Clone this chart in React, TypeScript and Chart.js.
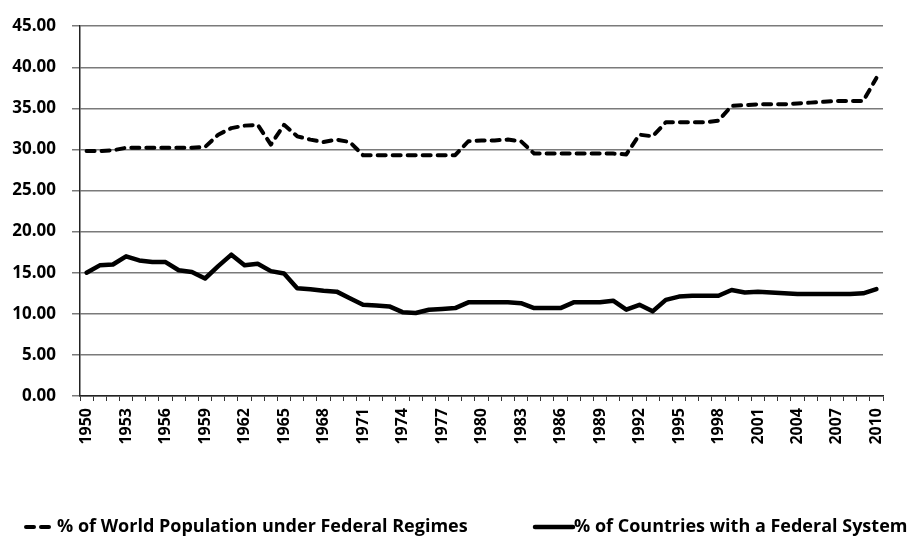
import React, { useEffect, useRef } from "react";
import { Chart, registerables } from "chart.js";

Chart.register(...registerables);

const years = [
  "1950", "1951", "1952", "1953", "1954", "1955", "1956", "1957", "1958", "1959",
  "1960", "1961", "1962", "1963", "1964", "1965", "1966", "1967", "1968", "1969",
  "1970", "1971", "1972", "1973", "1974", "1975", "1976", "1977", "1978", "1979",
  "1980", "1981", "1982", "1983", "1984", "1985", "1986", "1987", "1988", "1989",
  "1990", "1991", "1992", "1993", "1994", "1995", "1996", "1997", "1998", "1999",
  "2000", "2001", "2002", "2003", "2004", "2005", "2006", "2007", "2008", "2009",
  "2010",
];

const shownYearLabels = [
  "1950", "1953", "1956", "1959", "1962", "1965", "1968", "1971", "1974", "1977",
  "1980", "1983", "1986", "1989", "1992", "1995", "1998", "2001", "2004", "2007",
  "2010",
];

const worldPopulationShare = [
  29.8, 29.8, 29.9, 30.2, 30.2, 30.2, 30.2, 30.2, 30.2, 30.3,
  31.8, 32.6, 32.9, 33.0, 30.6, 33.0, 31.6, 31.2, 30.9, 31.2,
  30.9, 29.3, 29.3, 29.3, 29.3, 29.3, 29.3, 29.3, 29.3, 31.0,
  31.1, 31.1, 31.2, 31.0, 29.5, 29.5, 29.5, 29.5, 29.5, 29.5,
  29.5, 29.4, 31.8, 31.6, 33.3, 33.3, 33.3, 33.3, 33.5, 35.3,
  35.4, 35.5, 35.5, 35.5, 35.6, 35.7, 35.8, 35.9, 35.9, 35.9,
  38.7,
];

const countriesShare = [
  15.0, 15.9, 16.0, 17.0, 16.5, 16.3, 16.3, 15.3, 15.1, 14.3,
  15.8, 17.2, 15.9, 16.1, 15.2, 14.9, 13.1, 13.0, 12.8, 12.7,
  11.9, 11.1, 11.0, 10.9, 10.2, 10.1, 10.5, 10.6, 10.7, 11.4,
  11.4, 11.4, 11.4, 11.3, 10.7, 10.7, 10.7, 11.4, 11.4, 11.4,
  11.6, 10.5, 11.1, 10.3, 11.7, 12.1, 12.2, 12.2, 12.2, 12.9,
  12.6, 12.7, 12.6, 12.5, 12.4, 12.4, 12.4, 12.4, 12.4, 12.5,
  13.0,
];

const seriesNames = [
  "% of World Population under Federal Regimes",
  "% of Countries with a Federal System",
];

const FONT = "'Open Sans', 'Liberation Sans', sans-serif";

const bottomLegend = {
  id: "bottomLegend",
  afterDraw(chart: any) {
    const ctx = chart.ctx as CanvasRenderingContext2D;
    const y = chart.height - 9;
    const items = [
      { x: 26, len: 30, ds: chart.data.datasets[0] },
      { x: 535, len: 38, ds: chart.data.datasets[1] },
    ];
    ctx.save();
    ctx.font = `bold 18px ${FONT}`;
    ctx.textBaseline = "middle";
    ctx.textAlign = "left";
    ctx.fillStyle = "#000";
    items.forEach((it) => {
      ctx.save();
      ctx.strokeStyle = it.ds.borderColor;
      ctx.lineWidth = it.ds.borderWidth;
      ctx.lineCap = it.ds.borderCapStyle || "butt";
      ctx.setLineDash(it.ds.borderDash || []);
      ctx.beginPath();
      ctx.moveTo(it.x, y);
      ctx.lineTo(it.x + it.len, y);
      ctx.stroke();
      ctx.restore();
      ctx.fillText(it.ds.label, it.x + it.len + 1, y);
    });
    ctx.restore();
  },
};

export default function App() {
  const ref = useRef<HTMLCanvasElement | null>(null);

  useEffect(() => {
    document.body.style.margin = "0";
    const canvas = ref.current;
    if (!canvas) return;
    const chart = new Chart(canvas, {
      type: "line",
      data: {
        labels: years,
        datasets: [
          {
            label: seriesNames[0],
            data: worldPopulationShare,
            borderColor: "#000",
            borderWidth: 4,
            borderDash: [8, 7],
            borderCapStyle: "round",
            borderJoinStyle: "round",
            pointRadius: 0,
            tension: 0,
            fill: false,
          },
          {
            label: seriesNames[1],
            data: countriesShare,
            borderColor: "#000",
            borderWidth: 4.5,
            borderCapStyle: "round",
            borderJoinStyle: "round",
            pointRadius: 0,
            tension: 0,
            fill: false,
          },
        ],
      },
      options: {
        responsive: false,
        maintainAspectRatio: false,
        animation: false,
        layout: { padding: { top: 15, right: 29, bottom: 40, left: 0 } },
        plugins: {
          legend: { display: false },
          tooltip: { enabled: false },
        },
        scales: {
          x: {
            type: "category",
            offset: true,
            grid: {
              offset: true,
              drawOnChartArea: false,
              drawTicks: true,
              tickLength: 5,
              color: "#333",
              lineWidth: 1,
            },
            border: { display: true, color: "#222", width: 1.5 },
            ticks: {
              autoSkip: false,
              maxRotation: 90,
              minRotation: 90,
              padding: 7,
              color: "#000",
              font: { family: FONT, size: 16, weight: "bold" },
              callback: function (this: any, _v: any, idx: number) {
                const lab = years[idx];
                return shownYearLabels.includes(lab) ? lab : "";
              },
            },
            afterFit: (s: any) => {
              s.height = 536 - 396 - 40;
            },
          },
          y: {
            min: 0,
            max: 45,
            ticks: {
              stepSize: 5,
              padding: 16,
              color: "#000",
              font: { family: FONT, size: 17, weight: "bold" },
              callback: (v: any) => Number(v).toFixed(2),
            },
            grid: { color: "#7a7a7a", lineWidth: 1.5, tickLength: 8 },
            border: { display: true, color: "#222", width: 1.5 },
            afterFit: (s: any) => {
              s.width = 80;
            },
          },
        },
      },
      plugins: [bottomLegend],
    });
    return () => chart.destroy();
  }, []);

  return (
    <div style={{ width: 912, height: 536 }}>
      <canvas ref={ref} width={912} height={536} style={{ display: "block" }} />
    </div>
  );
}
